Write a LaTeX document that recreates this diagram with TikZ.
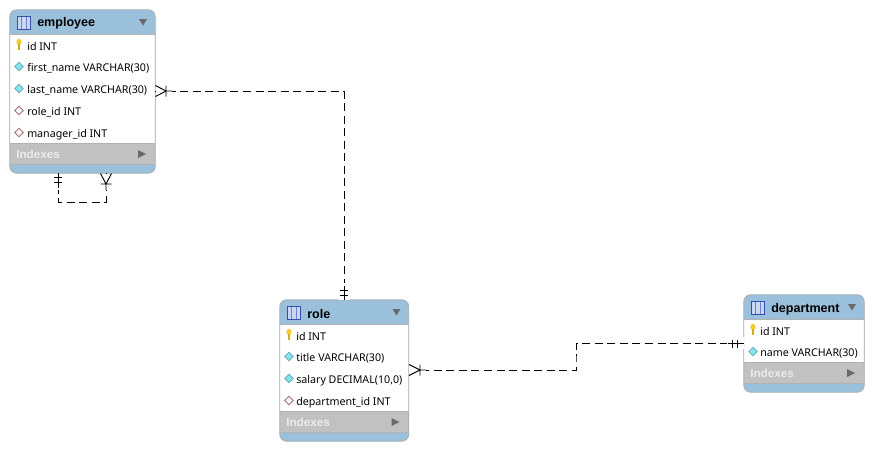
\documentclass[tikz,border=0pt]{standalone}
\usepackage{fontspec}
\setmainfont{Noto Sans}
\newfontfamily\headfont{Liberation Sans}
\usetikzlibrary{calc}
\usetikzlibrary{fit}
\usetikzlibrary{positioning}
\definecolor{headblue}{RGB}{155,192,220}
\definecolor{idxgray}{RGB}{193,193,193}
\definecolor{framegray}{RGB}{160,170,178}
\definecolor{tickgray}{RGB}{105,105,105}
\definecolor{iconblue}{RGB}{50,80,170}
\definecolor{iconfill}{RGB}{200,215,245}
\definecolor{keyyellow}{RGB}{245,205,40}
\definecolor{diamcyan}{RGB}{125,232,240}
\definecolor{diamedge}{RGB}{120,170,190}
\definecolor{fkedge}{RGB}{165,115,115}
\tikzset{
  px/.style = {x=.75pt, y=-.75pt},
  tablebox/.style = {rectangle, fill=headblue, rounded corners=5.5pt, inner sep=0pt},
  tableframe/.style = {draw=framegray, line width=.7pt, rounded corners=5.5pt},
  tabletitle/.style = {anchor=west, inner sep=0pt, font=\headfont\fontsize{9.4}{10}\selectfont\bfseries},
  colrow/.style = {anchor=west, inner sep=0pt, font=\fontsize{8}{9}\selectfont},
  idxlabel/.style = {anchor=west, inner sep=0pt, text=white!92!black, font=\headfont\fontsize{8.8}{10}\selectfont\bfseries},
  relation/.style = {draw=black, line width=.75pt, dash pattern=on 6pt off 3.4pt},
  notch/.style = {draw=black, line width=.7pt},
  trimark/.style = {fill=tickgray, draw=none}
}
% name, left, right, top, header end, indexes start, indexes end, bottom
\newcommand{\erdtable}[8]{
  \node [tablebox, fit={(#2,#4) (#3,#8)}] (#1) {};
  \fill [white] (#2,#5) rectangle (#3,#6);
  \fill [idxgray] (#2,#6) rectangle (#3,#7);
  \draw [tableframe] (#1.south west) rectangle (#1.north east);
  \draw [draw=white!40!gray, line width=.5pt] (#2,#5) -- (#3,#5) (#2,#6) -- (#3,#6) (#2,#7) -- (#3,#7);
  % table icon
  \draw [draw=iconblue, fill=iconfill, line width=.7pt] ($(#2,#4)+(7.5,6.5)$) rectangle ($(#2,#4)+(20.5,19.5)$);
  \draw [draw=iconblue!70!white, line width=.4pt] ($(#2,#4)+(11.5,7)$) -- ($(#2,#4)+(11.5,19)$) ($(#2,#4)+(16,7)$) -- ($(#2,#4)+(16,19)$);
  % collapse marks
  \fill [trimark] ($(#3,#4)+(-16,9)$) -- ($(#3,#4)+(-8,9)$) -- ($(#3,#4)+(-12,15.5)$) -- cycle;
  \fill [trimark] ($(#3,#6)+(-17,7)$) -- ($(#3,#6)+(-9,11)$) -- ($(#3,#6)+(-17,15)$) -- cycle;
  \node [idxlabel] (#1-idx) at ($(#2,#6)+(6,11)$) {Indexes};
}
\newcommand{\keyicon}[2]{
  \fill [keyyellow] (#1,#2-4) circle [x radius=2.6, y radius=3.2];
  \fill [keyyellow!85!black] (#1-.9,#2-2) rectangle (#1+1.1,#2+4);
}
\newcommand{\colicon}[4]{
  \draw [draw=#4, fill=#3, line width=.6pt] (#1-4.2,#2) -- (#1,#2-4.2) -- (#1+4.2,#2) -- (#1,#2+4.2) -- cycle;
}
\begin{document}
\begin{tikzpicture}[px]
\useasboundingbox (0,0) rectangle (874,450);
\fill [white] (0,0) rectangle (874,450);

% tables
\erdtable{employee}{10}{155}{10}{34.5}{143}{164.5}{173}
\erdtable{role}{280}{408.5}{300}{324}{411}{432.5}{441}
\erdtable{department}{744}{864}{295}{319}{362}{383}{392}

\node [tabletitle] (employee-title) at (37,23.5) {employee};
\node [tabletitle] (role-title) at (307,314) {role};
\node [tabletitle] (department-title) at (771,309) {department};

% columns of employee
\keyicon{19}{46}
\colicon{19}{66.5}{diamcyan}{diamedge}
\colicon{19}{88.5}{diamcyan}{diamedge}
\colicon{19}{110.5}{white}{fkedge}
\colicon{19}{132.5}{white}{fkedge}
\node [colrow] (emp-id) at (27,46.5) {id INT};
\node [colrow] (emp-first) at (27,68.5) {first\_name VARCHAR(30)};
\node [colrow] (emp-last) at (27,90.5) {last\_name VARCHAR(30)};
\node [colrow] (emp-role) at (27,112.5) {role\_id INT};
\node [colrow] (emp-manager) at (27,134.5) {manager\_id INT};

% columns of role
\keyicon{289}{336}
\colicon{289}{356.5}{diamcyan}{diamedge}
\colicon{289}{378.5}{diamcyan}{diamedge}
\colicon{289}{400.5}{white}{fkedge}
\node [colrow] (role-id) at (296,336.5) {id INT};
\node [colrow] (role-title-col) at (296,358.5) {title VARCHAR(30)};
\node [colrow] (role-salary) at (296,380.5) {salary DECIMAL(10,0)};
\node [colrow] (role-dept) at (296,402.5) {department\_id INT};

% columns of department
\keyicon{753}{331}
\colicon{753}{351.5}{diamcyan}{diamedge}
\node [colrow] (dept-id) at (760,331.5) {id INT};
\node [colrow] (dept-name) at (760,353.5) {name VARCHAR(30)};

% relations
\coordinate (bend) at (576,357);
\coordinate (selfA) at (58,173);
\coordinate (selfB) at (106,173);
\coordinate (selfC) at (58,202);
\draw [relation] (employee.east) -| (role.north);
\draw [relation] (role.east) -| (bend) |- (department.west);
\draw [relation] (selfA) -- (selfC) -| (selfB);

% crow feet and bars
\draw [notch, fill=white, draw=none] (155.5,85) rectangle (172,97);
\draw [notch] (155.5,85.5) -- (166,91) -- (155.5,96.5) (166,85.5) -- (166,96.5) (166,91) -- (172,91);
\draw [notch, draw=none, fill=white] (409,364) rectangle (426,376);
\draw [notch] (409,364.5) -- (420,370) -- (409,375.5) (420,364.5) -- (420,375.5) (420,370) -- (426,370);
\draw [notch, draw=none, fill=white] (100,173.5) rectangle (112,190);
\draw [notch] (100.5,173.5) -- (106,184) -- (111.5,173.5) (100.5,184) -- (111.5,184) (106,184) -- (106,190);
\draw [notch, draw=none, fill=white] (52,173.5) rectangle (64,190);
\draw [notch] (54,177) -- (62,177) (54,182) -- (62,182) (58,173.5) -- (58,188);
\draw [notch, draw=none, fill=white] (338,283) rectangle (350,300);
\draw [notch] (340,290) -- (348,290) (340,295) -- (348,295) (344,286) -- (344,300);
\draw [notch, draw=none, fill=white] (727,337) rectangle (743.5,349);
\draw [notch] (732,339.5) -- (732,347.5) (737,339.5) -- (737,347.5) (728,343.5) -- (743.5,343.5);
\end{tikzpicture}
\end{document}
